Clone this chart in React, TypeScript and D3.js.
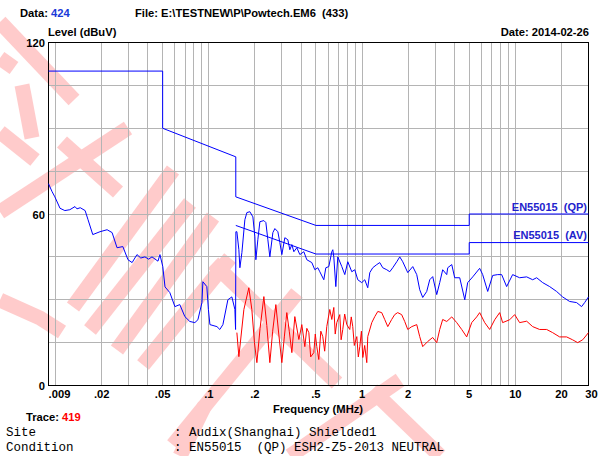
import React, { useEffect, useRef } from 'react';
import * as d3 from 'd3';

const W = 598;
const H = 456;

// QP trace (blue), [MHz, dBuV]
const qpTrace: [number, number][] = [
  [0.009, 70.6], [0.0095, 67.8], [0.0099, 66], [0.0107, 62], [0.0112, 61.5], [0.0115, 61.2],
  [0.0124, 61.5], [0.0134, 62.6], [0.0138, 61.8], [0.0145, 62.2], [0.0156, 61.2], [0.0163, 58],
  [0.0175, 52.8], [0.0195, 53.8], [0.0217, 54.5], [0.0234, 53.5], [0.0252, 48.2], [0.0275, 48.6],
  [0.0297, 44], [0.0316, 43], [0.034, 45.8], [0.036, 44.6], [0.0383, 45], [0.0405, 44.2],
  [0.0426, 45], [0.0466, 43.5], [0.048, 45.8], [0.0501, 41.6], [0.0518, 34.5], [0.0557, 32.5],
  [0.0601, 27.6], [0.0647, 28.3], [0.0698, 24.1], [0.0752, 22.4], [0.0811, 22], [0.0849, 23],
  [0.0902, 29], [0.0915, 36.3], [0.0971, 34.6], [0.0994, 26.6], [0.1017, 21.3], [0.113, 20.6],
  [0.118, 19.6], [0.1236, 21.3], [0.1332, 30], [0.1414, 31], [0.148, 26.6], [0.1495, 19.6],
  [0.1502, 53.8], [0.1525, 53.8], [0.1571, 47.5], [0.1595, 41.2], [0.1644, 46.5], [0.1719, 58],
  [0.1772, 60.5], [0.1853, 60.8], [0.1939, 59], [0.1998, 52], [0.2028, 44], [0.2089, 51],
  [0.2154, 57.3], [0.2287, 57.7], [0.2357, 57], [0.2428, 51], [0.2502, 45], [0.2618, 53.5],
  [0.2698, 54.9], [0.2822, 53.8], [0.2908, 50], [0.2996, 45.8], [0.3134, 51.7], [0.3278, 51],
  [0.3379, 47.5], [0.3482, 49.3], [0.3588, 46.8], [0.3753, 48.2], [0.3927, 45.8], [0.4169, 46.8],
  [0.436, 44], [0.47, 43], [0.4917, 40.5], [0.5142, 41.2], [0.5299, 39.8], [0.5627, 37],
  [0.58, 41.2], [0.6067, 41.6], [0.6346, 46.8], [0.6442, 47.5], [0.654, 45], [0.6741, 34.6],
  [0.6945, 45], [0.7375, 41.6], [0.7713, 38.8], [0.8068, 43.3], [0.8567, 39.8], [0.8961, 40.5],
  [0.9371, 37], [0.995, 36], [1.041, 37], [1.089, 34.2], [1.123, 39.5], [1.174, 41.2],
  [1.247, 42.3], [1.304, 43], [1.364, 41.2], [1.449, 40.5], [1.516, 39.8], [1.585, 41.2],
  [1.684, 43.3], [1.761, 45], [1.842, 43.3], [1.986, 39.5], [2.141, 41.6], [2.273, 38.8],
  [2.377, 33.5], [2.487, 30.8], [2.641, 32.9], [2.763, 37], [2.89, 38.1], [3.069, 31.8],
  [3.21, 36], [3.357, 40.5], [3.566, 38.8], [3.62, 41.2], [3.846, 42.3],
  [4.02, 37.7], [4.335, 37.7], [4.677, 30], [4.887, 36], [5.27, 38], [5.85, 41], [6.12, 38.8],
  [6.6, 32.9], [7.11, 38.5], [7.666, 38.8], [8.14, 38.8], [8.77, 34.6], [9.6, 38.8],
  [10.66, 37.7], [11.85, 38], [12.97, 37], [13.77, 37.7], [15.07, 36], [16.74, 34.6],
  [18.58, 32.9], [20.34, 31], [22.59, 29.4], [25.09, 29], [27.04, 27.6], [28.31, 29], [30, 31],
];

// AV trace (red), [MHz, dBuV]
const avTrace: [number, number][] = [
  [0.1525, 18.5], [0.1571, 10.1], [0.1694, 26.6], [0.1825, 34.2], [0.1909, 26.6], [0.1985, 15],
  [0.2059, 8], [0.2160, 20], [0.2287, 31.1], [0.2390, 21], [0.2502, 8], [0.2610, 19],
  [0.2738, 28.3], [0.2860, 18], [0.2996, 8], [0.3110, 17], [0.3228, 25.5], [0.3350, 19],
  [0.3482, 11.5], [0.3641, 24.1], [0.3868, 16.1], [0.4045, 21.3], [0.4231, 13.6], [0.436, 20],
  [0.4494, 18.5], [0.462, 10], [0.4843, 11.5], [0.495, 18], [0.5064, 13.6], [0.5218, 9.1],
  [0.538, 19], [0.5541, 17.1], [0.57, 12], [0.5884, 20.6], [0.6157, 26.6], [0.6346, 23.1],
  [0.654, 27.3], [0.668, 18], [0.6839, 22], [0.7153, 24.8], [0.73, 16], [0.7482, 19.6],
  [0.77, 25], [0.7947, 21.3], [0.8312, 19.6], [0.85, 24], [0.8693, 20.6], [0.89, 14],
  [0.9237, 17.1], [0.945, 10], [0.9664, 13.6], [0.99, 19], [1.011, 9.8], [1.04, 14],
  [1.073, 8], [1.089, 17.1], [1.157, 22], [1.21, 24.1], [1.266, 25.9], [1.343, 25.5],
  [1.405, 23.1], [1.471, 20.6], [1.56, 23.1], [1.632, 24.8], [1.707, 25.5], [1.812, 24.8],
  [1.897, 22.4], [1.986, 19.6], [2.109, 20.6], [2.273, 21.3], [2.377, 17.1], [2.487, 13.6],
  [2.681, 15.4], [2.89, 16.8], [3.069, 15], [3.21, 19.6], [3.357, 23.1], [3.566, 22.4],
  [3.846, 24], [4.144, 22], [4.467, 19.6],
  [4.814, 17], [5.19, 22], [5.594, 24], [5.85, 25.5], [6.31, 22], [6.8, 19.6], [7.33, 23],
  [7.9, 25.5], [8.26, 22], [9.18, 23], [9.9, 24.8], [10.66, 22], [11.85, 22.5], [12.97, 20.6],
  [14.4, 19.6], [16.0, 19.6], [17.5, 18.5], [19.45, 17], [21.6, 17], [23.6, 16], [25.5, 15],
  [27.5, 16], [30, 18.5],
];

// EN55015 limits
const qpLimit: [number, number][] = [
  [0.009, 110], [0.05, 110], [0.05, 90], [0.15, 80], [0.15, 66], [0.5, 56], [5, 56], [5, 60], [30, 60],
];
const avLimit: [number, number][] = [
  [0.15, 56], [0.5, 46], [5, 46], [5, 50], [30, 50],
];

const xTickValues = [0.009, 0.02, 0.05, 0.1, 0.2, 0.5, 1, 2, 5, 10, 20, 30];
const xTickLabels = ['.009', '.02', '.05', '.1', '.2', '.5', '1', '2', '5', '10', '20', '30'];
const yTickValues = [0, 60, 120];
const xGridValues = [
  0.01, 0.02, 0.03, 0.04, 0.05, 0.06, 0.07, 0.08, 0.09,
  0.1, 0.2, 0.3, 0.4, 0.5, 0.6, 0.7, 0.8, 0.9,
  1, 2, 3, 4, 5, 6, 7, 8, 9, 10, 20,
];
const yGridValues = [15, 30, 45, 60, 75, 90, 105];

const infoLines = [
  ['Site', ': Audix(Shanghai) Shielded1'],
  ['Condition', ': EN55015  (QP) ESH2-Z5-2013 NEUTRAL'],
];

// decorative watermark strokes (page pixels)
const watermark: [number, number][][] = [
  [[0, 22], [74, 100]],
  [[0, 58], [14, 68]],
  [[22, 85], [32, 138]],
  [[0, 132], [35, 160]],
  [[0, 212], [128, 128]],
  [[62, 142], [118, 192]],
  [[0, 300], [40, 318], [62, 332]],
  [[73, 307], [173, 170]],
  [[90, 330], [190, 203]],
  [[117, 350], [213, 217]],
  [[143, 365], [230, 258]],
  [[173, 445], [297, 293]],
  [[213, 263], [337, 383]],
  [[180, 456], [205, 405]],
  [[290, 456], [400, 380]],
  [[372, 390], [440, 456]],
];

const nb = (s: string) => s.replace(/ /g, '\u00a0');

const App = () => {
  const ref = useRef<SVGSVGElement>(null);

  useEffect(() => {
    document.body.style.margin = '0';
    const svg = d3.select(ref.current);
    svg.selectAll('*').remove();

    const x = d3.scaleLog().domain([0.009, 30]).range([48.5, 588.5]);
    const y = d3.scaleLinear().domain([0, 120]).range([385.5, 42.5]);
    const sans = "'Liberation Sans', Arial, sans-serif";
    const mono = "'Liberation Mono', 'Courier New', monospace";

    svg.append('rect').attr('width', W).attr('height', H).attr('fill', '#fff');

    // watermark
    const wm = svg.append('g').attr('opacity', 0.2).attr('fill', 'none')
      .attr('stroke', '#ff0000').attr('stroke-width', 15);
    watermark.forEach((p) => wm.append('path').attr('d', d3.line()(p)));

    // grid
    const grid = svg.append('g').attr('stroke', '#b4b4b4').attr('stroke-width', 1);
    xGridValues.forEach((f) => {
      const px = Math.floor(x(f)) + 0.5;
      grid.append('line').attr('x1', px).attr('x2', px).attr('y1', y(120)).attr('y2', y(0));
    });
    yGridValues.forEach((v) => {
      const py = Math.floor(y(v)) + 0.5;
      grid.append('line').attr('x1', x(0.009)).attr('x2', x(30)).attr('y1', py).attr('y2', py);
    });

    // frame
    svg.append('rect')
      .attr('x', x(0.009)).attr('y', y(120))
      .attr('width', x(30) - x(0.009)).attr('height', y(0) - y(120))
      .attr('fill', 'none').attr('stroke', '#000').attr('stroke-width', 1);

    const line = d3.line<[number, number]>().x((d) => x(d[0])).y((d) => y(d[1]));

    // limits
    [qpLimit, avLimit].forEach((lim) => {
      svg.append('path').attr('d', line(lim)).attr('fill', 'none')
        .attr('stroke', '#0000ff').attr('stroke-width', 1);
    });

    // traces
    svg.append('path').attr('d', line(avTrace)).attr('fill', 'none')
      .attr('stroke', '#ff0000').attr('stroke-width', 1);
    svg.append('path').attr('d', line(qpTrace)).attr('fill', 'none')
      .attr('stroke', '#0000ff').attr('stroke-width', 1);

    // limit labels
    const legend = svg.append('g').attr('font-family', sans).attr('font-weight', 'bold')
      .attr('font-size', 11).attr('fill', '#2222cc').attr('text-anchor', 'end');
    legend.append('text').attr('x', 587).attr('y', y(qpLimit[qpLimit.length - 1][1]) - 3.5).text(nb('EN55015  (QP)'));
    legend.append('text').attr('x', 587).attr('y', y(avLimit[avLimit.length - 1][1]) - 3.5).text(nb('EN55015  (AV)'));

    // axis labels
    const txt = svg.append('g').attr('font-family', sans).attr('font-weight', 'bold')
      .attr('font-size', 11.2).attr('fill', '#000');

    xTickValues.forEach((f, i) => {
      let dx = 0;
      if (i === 0) dx = 11;
      if (i === xTickValues.length - 1) dx = 3;
      txt.append('text').attr('x', x(f) + dx).attr('y', 398).attr('text-anchor', 'middle')
        .text(xTickLabels[i]);
    });
    yTickValues.forEach((v) => {
      txt.append('text').attr('x', 45).attr('y', y(v) + 4.5).attr('text-anchor', 'end').text(String(v));
    });

    const data = txt.append('text').attr('x', 20).attr('y', 17);
    data.append('tspan').text(nb('Data: '));
    data.append('tspan').attr('fill', '#1a3ad8').text('424');
    txt.append('text').attr('x', 135).attr('y', 17).text(nb('File: E:\\TESTNEW\\P\\Powtech.EM6  (433)'));
    txt.append('text').attr('x', 48).attr('y', 36).text('Level (dBuV)');
    txt.append('text').attr('x', 589).attr('y', 36).attr('text-anchor', 'end').text('Date: 2014-02-26');
    txt.append('text').attr('x', 318).attr('y', 413).attr('text-anchor', 'middle').text('Frequency (MHz)');
    const trace = txt.append('text').attr('x', 26).attr('y', 421);
    trace.append('tspan').text(nb('Trace: '));
    trace.append('tspan').attr('fill', '#ff0000').text('419');

    // info block
    const info = svg.append('g').attr('font-family', mono).attr('font-size', 12.5).attr('fill', '#000');
    infoLines.forEach((row, i) => {
      info.append('text').attr('x', 6).attr('y', 436 + i * 15).text(row[0]);
      info.append('text').attr('x', 174).attr('y', 436 + i * 15).text(nb(row[1]));
    });
  }, []);

  return (
    <div style={{ position: 'absolute', left: 0, top: 0 }}>
      <svg ref={ref} width={W} height={H} style={{ display: 'block' }} />
    </div>
  );
};

export default App;
